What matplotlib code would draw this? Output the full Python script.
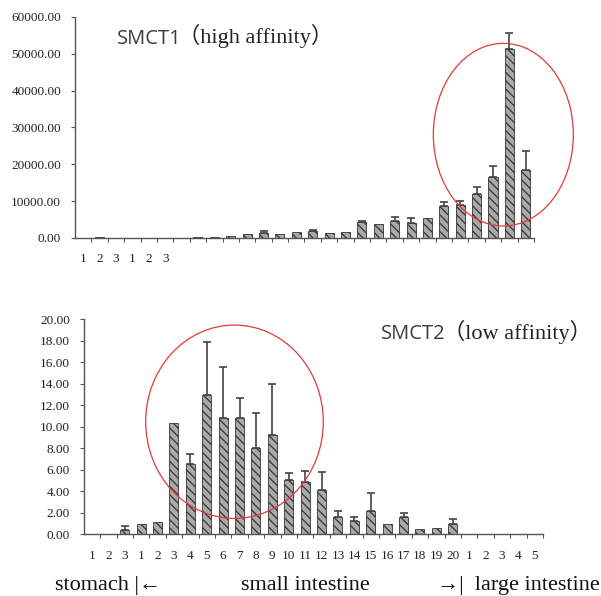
"""
SMCT1 / SMCT2 expression along the gut: two hatched bar panels.
"""

import matplotlib

matplotlib.use("Agg")

import matplotlib.pyplot as plt
import numpy as np
from matplotlib.patches import Ellipse


# ---- data -------------------------------------------------------------

# stomach 1-3, small intestine 1-20, large intestine 1-5
segment_labels = (
    ["1", "2", "3"]
    + [str(i) for i in range(1, 21)]
    + ["1", "2", "3", "4", "5"]
)

smct1_mean = [
    0, 150, 0, 0, 0, 0, 0, 200, 250, 500,
    1100, 1400, 1100, 1500, 1900, 1300, 1600, 4300, 3800, 4700,
    4200, 5300, 8800, 8900, 12000, 16500, 51300, 18400,
]
smct1_err = [
    0, 0, 0, 0, 0, 0, 0, 0, 0, 0,
    0, 500, 0, 0, 400, 0, 0, 300, 0, 900,
    1100, 0, 900, 1200, 1800, 3000, 4300, 5300,
]

smct2_mean = [
    0, 0, 0.4, 1.0, 1.1, 10.3, 6.5, 12.95, 10.8, 10.8,
    8.05, 9.2, 5.05, 4.9, 4.1, 1.65, 1.27, 2.2, 0.95, 1.6,
    0.45, 0.55, 0.95, 0, 0, 0, 0, 0,
]
smct2_err = [
    0, 0, 0.35, 0, 0, 0, 1.0, 4.9, 4.7, 1.9,
    3.25, 4.8, 0.65, 1.0, 1.7, 0.55, 0.3, 1.65, 0, 0.35,
    0, 0, 0.45, 0, 0, 0, 0, 0,
]

top_ticks = [0, 10000, 20000, 30000, 40000, 50000, 60000]
bottom_ticks = [0, 2, 4, 6, 8, 10, 12, 14, 16, 18, 20]


# ---- style ------------------------------------------------------------

SERIF = ["Liberation Serif", "DejaVu Serif"]
SERIF_CJK = ["Liberation Serif", "Noto Sans CJK JP", "DejaVu Serif"]
BAR_FACE = "#a9a9a9"
BAR_EDGE = "#333333"
AXIS_COLOR = "#555555"
RED = "#e23a3a"

plt.rcParams["hatch.linewidth"] = 0.9


def style_axis(ax, ticks, ylim, labels, label_size):
    """
    Dotted left/bottom spines, serif tick labels, ticks between bars.
    """

    n = len(labels)
    for side in ("top", "right"):
        ax.spines[side].set_visible(False)
    for side in ("left", "bottom"):
        ax.spines[side].set_linestyle((0, (1, 1)))
        ax.spines[side].set_color(AXIS_COLOR)
        ax.spines[side].set_linewidth(1.0)

    ax.set_xlim(-0.5, n - 0.5)
    ax.set_ylim(*ylim)

    ax.set_yticks(ticks)
    ax.set_yticklabels([f"{t:.2f}" for t in ticks])
    ax.tick_params(axis="y", length=3, width=0.8, color=AXIS_COLOR,
                   pad=7, labelsize=label_size, labelcolor="#222222")

    ax.set_xticks(np.arange(n))
    ax.set_xticklabels(labels)
    ax.tick_params(axis="x", which="major", length=0, pad=11,
                   labelsize=label_size, labelcolor="#222222")
    ax.set_xticks(np.arange(n) + 0.5, minor=True)
    ax.tick_params(axis="x", which="minor", length=3, width=0.8,
                   color=AXIS_COLOR)

    for lab in ax.get_xticklabels() + ax.get_yticklabels():
        lab.set_family(SERIF)


def draw_bars(ax, mean, err):
    """
    Hatched bars with upper error bars only (where an error exists).
    """

    mean = np.asarray(mean, dtype=float)
    err = np.asarray(err, dtype=float)
    x = np.arange(len(mean))
    shown = mean > 0
    ax.bar(
        x[shown],
        mean[shown],
        width=0.55,
        color=BAR_FACE,
        edgecolor=BAR_EDGE,
        linewidth=0.6,
        hatch="\\\\\\\\",
        zorder=2,
    )
    has_err = err > 0
    ax.errorbar(
        x[has_err],
        mean[has_err],
        yerr=[np.zeros(has_err.sum()), err[has_err]],
        fmt="none",
        ecolor="#444444",
        elinewidth=1.2,
        capsize=2.8,
        capthick=1.2,
        zorder=3,
    )


# ---- figure -----------------------------------------------------------

fig = plt.figure(figsize=(6.01, 5.96), dpi=100)

ax1 = fig.add_axes([0.1248, 0.6007, 0.7637, 0.3708])
draw_bars(ax1, smct1_mean, smct1_err)
style_axis(ax1, top_ticks, (0, 60000),
           segment_labels[:6] + [""] * (len(segment_labels) - 6), 9.5)
ax1.add_patch(Ellipse((25.63, 28050), 8.54, 49600, fill=False,
                      edgecolor=RED, linewidth=0.9, clip_on=False, zorder=4))

ax2 = fig.add_axes([0.1394, 0.1035, 0.764, 0.3612])
draw_bars(ax2, smct2_mean, smct2_err)
style_axis(ax2, bottom_ticks, (0, 20), segment_labels, 9.5)
ax2.add_patch(Ellipse((8.69, 10.46), 10.83, 17.96, fill=False,
                      edgecolor=RED, linewidth=0.9, clip_on=False, zorder=4))

# panel titles
W, H = 601, 596
fig.text(117 / W, 1 - 43.5 / H, "SMCT1", family="Open Sans",
         fontsize=14.5, color="#3a3a3a", va="baseline")
fig.text(178 / W, 1 - 43.5 / H, "（high affinity）", family=SERIF_CJK,
         fontsize=16, color="#222222", va="baseline")

fig.text(381 / W, 1 - 339 / H, "SMCT2", family="Open Sans",
         fontsize=14.5, color="#3a3a3a", va="baseline")
fig.text(443 / W, 1 - 339 / H, "（low affinity）", family=SERIF_CJK,
         fontsize=16, color="#222222", va="baseline")

# gut region caption
fig.text(55 / W, 1 - 590 / H, "stomach |←", family=SERIF,
         fontsize=16, color="#111111", va="baseline")
fig.text(241 / W, 1 - 590 / H, "small intestine", family=SERIF,
         fontsize=16, color="#111111", va="baseline")
fig.text(437 / W, 1 - 590 / H, "→|  large intestine", family=SERIF,
         fontsize=16, color="#111111", va="baseline")

fig.savefig("out.png", dpi=100)
